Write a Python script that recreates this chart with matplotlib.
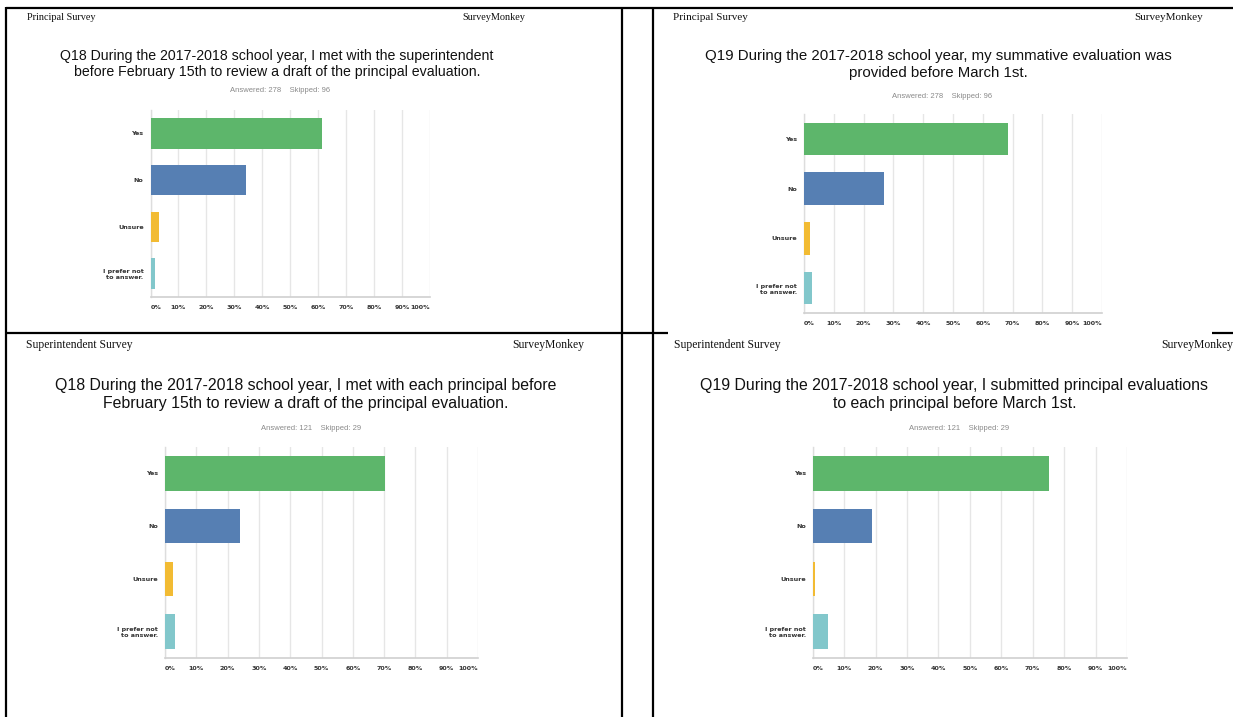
import matplotlib
matplotlib.use("Agg")
import matplotlib.pyplot as plt
from matplotlib.lines import Line2D

W, H = 1233, 717

categories = ["Yes", "No", "Unsure", "I prefer not\nto answer."]
colors = ["#5db66b", "#567fb3", "#f2bb33", "#82c7cb"]
tick_labels = ["0%", "10%", "20%", "30%", "40%", "50%", "60%", "70%", "80%", "90%", "100%"]

# percent of respondents per answer
principal_q18 = [61.51, 34.17, 2.88, 1.44]
principal_q19 = [68.35, 26.98, 2.16, 2.52]
super_q18 = [70.25, 23.97, 2.48, 3.31]
super_q19 = [75.21, 19.01, 0.83, 4.96]

titles = [
    "Q18 During the 2017-2018 school year, I met with the superintendent\nbefore February 15th to review a draft of the principal evaluation.",
    "Q19 During the 2017-2018 school year, my summative evaluation was\nprovided before March 1st.",
    "Q18 During the 2017-2018 school year, I met with each principal before\nFebruary 15th to review a draft of the principal evaluation.",
    "Q19 During the 2017-2018 school year, I submitted principal evaluations\nto each principal before March 1st.",
]
answered = ["Answered: 278    Skipped: 96", "Answered: 278    Skipped: 96",
            "Answered: 121    Skipped: 29", "Answered: 121    Skipped: 29"]
surveys = ["Principal Survey", "Principal Survey", "Superintendent Survey", "Superintendent Survey"]

fig = plt.figure(figsize=(W / 100, H / 100), dpi=100)
fig.patch.set_facecolor("white")


def fx(x):
    return x / W


def fy(y):
    return 1 - y / H


def text_px(x, y, s, **kw):
    fig.text(fx(x), fy(y), s, **kw)


# panel layout: axes box (left, top, right, bottom), header row y, header left/right x,
# title center x / y, answered line y, title size, header size
panels = [
    dict(box=(150.5, 110, 430, 297), hy=18, hl=27, hr=525, tx=277, ty=64, ay=91, ax_=280, ts=10.2, hs=7.4),
    dict(box=(804, 114, 1102, 313), hy=17, hl=673, hr=1203, tx=938, ty=64.5, ay=96, ax_=942, ts=10.8, hs=8.0),
    dict(box=(165, 447, 478, 658), hy=345, hl=26, hr=584, tx=306, ty=394.5, ay=428, ax_=311, ts=11.4, hs=8.4),
    dict(box=(812.7, 447, 1127, 658), hy=345, hl=674, hr=None, tx=954.5, ty=394.5, ay=428, ax_=959, ts=11.45, hs=8.4),
]
values = [principal_q18, principal_q19, super_q18, super_q19]

for p, vals, title, ans, survey in zip(panels, values, titles, answered, surveys):
    l, t, r, b = p["box"]
    ax = fig.add_axes([fx(l), fy(b), (r - l) / W, (b - t) / H])
    ypos = range(len(categories))
    ax.barh(ypos, vals, height=0.65, color=colors, edgecolor="none", zorder=3)
    ax.set_xlim(0, 100)
    ax.set_ylim(len(categories) - 0.5, -0.5)
    ax.set_yticks(list(ypos))
    ax.set_yticklabels(categories, fontsize=4.6, fontweight="bold", color="#333333",
                       family="DejaVu Sans", linespacing=1.3)
    ax.set_xticks(range(0, 101, 10))
    ax.set_xticklabels(tick_labels, fontsize=4.6, fontweight="bold", color="#333333",
                       family="DejaVu Sans")
    tl = ax.get_xticklabels()
    tl[0].set_horizontalalignment("left")
    tl[-1].set_horizontalalignment("right")
    ax.tick_params(axis="both", length=0, pad=5)
    ax.tick_params(axis="x", pad=6)
    ax.grid(axis="x", color="#e6e6e6", linewidth=1.0, zorder=0)
    for side in ["top", "right"]:
        ax.spines[side].set_visible(False)
    ax.spines["left"].set_color("#dddddd")
    ax.spines["bottom"].set_color("#d0d0d0")
    ax.spines["left"].set_linewidth(1.0)
    ax.spines["bottom"].set_linewidth(1.2)

    text_px(p["hl"], p["hy"], survey, family="Liberation Serif", fontsize=p["hs"],
            color="#111111", va="center", ha="left")
    if p["hr"] is not None:
        text_px(p["hr"], p["hy"], "SurveyMonkey", family="Liberation Serif", fontsize=p["hs"],
                color="#111111", va="center", ha="right")
    else:
        text_px(1161, p["hy"], "SurveyMonkey", family="Liberation Serif", fontsize=p["hs"],
                color="#111111", va="center", ha="left")
    text_px(p["tx"], p["ty"], title, family="Liberation Sans", fontsize=p["ts"],
            color="#111111", va="center", ha="center", linespacing=1.2)
    text_px(p["ax_"], p["ay"], ans, family="Liberation Sans", fontsize=5.5,
            color="#8a8a8a", va="center", ha="center")

# table rules around the four screenshots
rules = [
    ((6, 6), (7, 717)),
    ((622, 622), (7, 717)),
    ((653, 653), (7, 717)),
    ((6, 1233), (7.5, 7.5)),
    ((6, 668), (333, 333)),
    ((1212, 1233), (333, 333)),
]
for xs, ys in rules:
    fig.add_artist(Line2D([fx(x) for x in xs], [fy(y) for y in ys],
                          color="black", linewidth=1.6, solid_capstyle="butt"))

fig.savefig("out.png", dpi=100, facecolor="white")
